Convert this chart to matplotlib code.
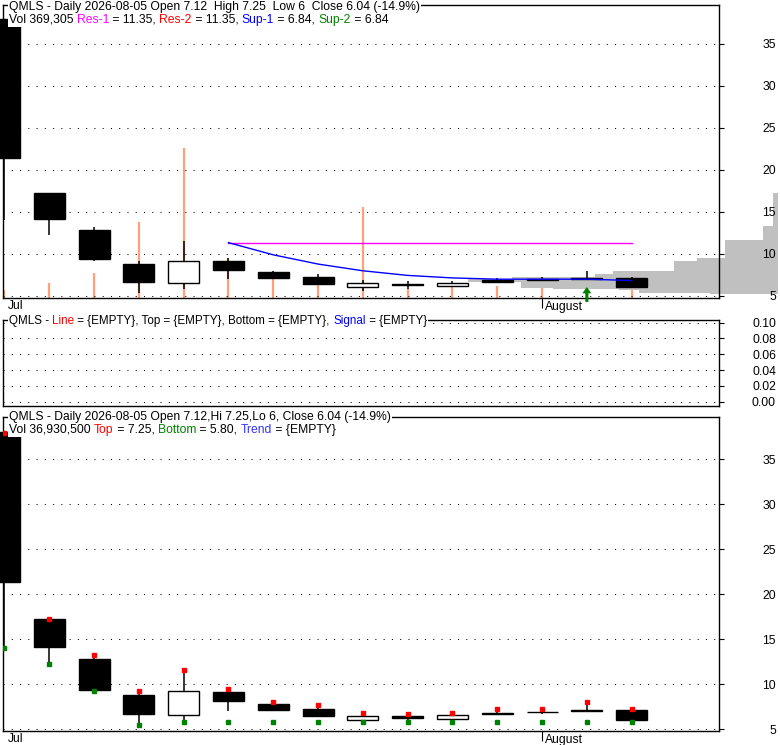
import matplotlib
matplotlib.use("Agg")
import matplotlib.pyplot as plt
from matplotlib.patches import Rectangle, FancyArrow
from matplotlib.offsetbox import TextArea, HPacker, AnnotationBbox
from matplotlib.transforms import ScaledTranslation

plt.rcParams['font.family'] = ['Liberation Sans', 'DejaVu Sans']
plt.rcParams['lines.scale_dashes'] = False

W, H, DPI = 780, 745, 100
FS = 8.7

# daily bars 2026-07-16 .. 2026-08-05
opens  = [38.0, 17.25, 12.85, 8.8, 6.55, 9.15, 7.85, 7.3, 6.05, 6.45, 6.15, 6.85, 6.97, 7.12, 7.12]
highs  = [38.0, 17.3, 13.2, 9.15, 11.5, 9.5, 8.0, 7.6, 6.85, 6.75, 6.8, 7.15, 7.3, 8.0, 7.25]
lows   = [14.0, 12.3, 9.2, 5.4, 5.8, 7.0, 7.0, 6.4, 5.6, 5.8, 6.1, 6.6, 6.75, 6.95, 6.0]
closes = [21.4, 14.15, 9.4, 6.7, 9.2, 8.1, 7.1, 6.45, 6.5, 6.25, 6.6, 6.7, 6.93, 7.0, 6.04]
volumes = [128000, 241000, 401000, 1220000, 2410000, 642000, 321000, 209000,
           1461000, 145000, 177000, 193000, 161000, 289000, 369305]

month_pos = [0, 12]
month_names = ["Jul", "August"]

# Res-1 / Sup-1 lines start at bar 5
line_start = 5
res1 = [11.35] * 10
sup1 = [11.35, 9.9, 8.8, 8.0, 7.45, 7.15, 7.0, 7.0, 7.0, 6.84]

signal_bars = [13]
signal_price = [6.07]

# top / bottom markers of lower panel
top_marks = [37.9, 17.25, 13.25, 9.2, 11.6, 9.5, 8.0, 7.65, 6.85, 6.75, 6.85, 7.2, 7.3, 8.0, 7.3]
bot_marks = [14.0, 12.3, 9.2, 5.45, 5.8, 5.8, 5.8, 5.8, 5.8, 5.8, 5.8, 5.8, 5.8, 5.8, 5.8]

# volume by price (price bin low, high, relative volume)
vp_lo  = [5.20, 5.39, 5.71, 5.83, 5.99, 6.70, 7.02, 7.30, 7.58, 7.98, 9.17, 9.52, 11.67, 13.33]
vp_hi  = [5.39, 5.71, 5.83, 5.99, 6.70, 7.02, 7.30, 7.58, 7.98, 9.17, 9.52, 11.67, 13.33, 17.26]
vp_vol = [68, 139, 159, 225, 257, 310, 266, 183, 165, 104, 81, 53, 15, 5]

price_ticks = [5, 10, 15, 20, 25, 30, 35]
ind_ticks = [0.00, 0.02, 0.04, 0.06, 0.08, 0.10]

fig = plt.figure(figsize=(W / DPI, H / DPI), dpi=DPI, facecolor="w")


def px_axes(left, top, right, bottom, **kw):
    return fig.add_axes([left / W, 1 - bottom / H, (right - left) / W, (bottom - top) / H], **kw)


def style_axes(ax, ticks, fmt):
    for s in ax.spines.values():
        s.set_linewidth(1.0)
        s.set_color("black")
    ax.set_xlim(-0.022, 15.95)
    ax.yaxis.tick_right()
    ax.set_yticks(ticks)
    ax.set_yticklabels([fmt.format(t) for t in ticks])
    ax.tick_params(axis="y", direction="out", length=3.6, width=0.8, pad=37.4, labelsize=FS)
    for lbl in ax.get_yticklabels():
        lbl.set_horizontalalignment("right")
    ax.grid(axis="y", color="black", lw=0.75, linestyle=(0, (0.75, 5.2)))
    ax.set_axisbelow(True)


def month_labels(ax):
    ax.set_xticks([p for p, n in zip(month_pos, month_names) if n != "Jul"])
    ax.set_xticklabels([n for n in month_names if n != "Jul"])
    ax.set_xticks([p for p, n in zip(month_pos, month_names) if n == "Jul"], minor=True)
    ax.set_xticklabels([n for n in month_names if n == "Jul"], minor=True)
    ax.tick_params(axis="x", which="major", direction="out", length=7, width=0.8, pad=-4.5, labelsize=FS)
    ax.tick_params(axis="x", which="minor", length=0, pad=1.2, labelsize=FS)
    off = ScaledTranslation(3 / DPI, 0, fig.dpi_scale_trans)
    for lbl in ax.get_xticklabels(which="both"):
        lbl.set_horizontalalignment("left")
        lbl.set_transform(lbl.get_transform() + off)


def candles(ax):
    for i, (o, h, l, c) in enumerate(zip(opens, highs, lows, closes)):
        ax.vlines(i, l, h, color="black", lw=1.1, zorder=3)
        face = "black" if c < o else "white"
        ax.add_patch(Rectangle((i - 0.345, min(o, c)), 0.69, abs(c - o), facecolor=face,
                               edgecolor="black", lw=1.0, zorder=4, clip_on=False))


def header(x, y, parts, size=FS):
    boxes = [TextArea(s, textprops=dict(color=c, size=size)) for s, c in parts]
    pack = HPacker(children=boxes, align="baseline", pad=0, sep=0)
    ab = AnnotationBbox(pack, (x, H - y), xycoords="figure pixels", box_alignment=(0, 0.5),
                        frameon=True, pad=0.1, bboxprops=dict(facecolor="white", edgecolor="none"),
                        zorder=10)
    fig.add_artist(ab)


top_lim = (4.76, 39.64)

# volume by price, drawn from the right edge of the picture
ax_vp = px_axes(0, 5, 778, 298)
ax_vp.barh([(a + b) / 2 for a, b in zip(vp_lo, vp_hi)], vp_vol,
           height=[b - a for a, b in zip(vp_lo, vp_hi)], left=0, color="#c0c0c0", lw=0)
ax_vp.set_xlim(778, 0)
ax_vp.set_ylim(*top_lim)
ax_vp.axis("off")

# ---- price panel
ax = px_axes(3.5, 5, 719, 298)
ax.patch.set_visible(False)
ax_vol = ax.twinx()
ax_vol.set_zorder(ax.get_zorder() - 0.5)
ax.set_zorder(ax.get_zorder() + 1)
ax_vol.vlines(range(len(volumes)), 0, volumes, color="#FFA07A", lw=1.6)
ax_vol.set_ylim(0, max(volumes) * 293 / 150)
ax_vol.axis("off")

style_axes(ax, price_ticks, "{:d}")
ax.set_ylim(*top_lim)
candles(ax)
xs = list(range(line_start, line_start + len(res1)))
ax.plot(xs, res1, color="#FF00FF", lw=1.0, zorder=5)
ax.plot(xs, sup1, color="#0000FF", lw=1.0, zorder=5)
for b, p in zip(signal_bars, signal_price):
    ax.add_patch(FancyArrow(b, p - 1.78, 0, 1.78, width=0.07, head_width=0.2, head_length=0.75,
                            length_includes_head=True, color="#008000", lw=0, zorder=6, clip_on=False))
month_labels(ax)

header(9, 7, [("QMLS - Daily 2026-08-05 Open 7.12  High 7.25  Low 6  Close 6.04 (-14.9%)", "black")])
header(9, 20, [("Vol 369,305 ", "black"), ("Res-1", "#FF00FF"), (" = 11.35, ", "black"),
               ("Res-2", "#FF0000"), (" = 11.35, ", "black"), ("Sup-1", "#0000FF"),
               (" = 6.84, ", "black"), ("Sup-2", "#008000"), (" = 6.84", "black")])

# ---- indicator panel
ax2 = px_axes(3.5, 320, 719, 406)
style_axes(ax2, ind_ticks, "{:.2f}")
ax2.set_ylim(-0.0054, 0.1034)
ax2.set_xticks([])
header(9, 321, [("QMLS - ", "black"), ("Line", "#FF0000"), (" = {EMPTY}, Top = {EMPTY}, Bottom = {EMPTY}, ", "black"),
                ("Signal", "#0000FF"), (" = {EMPTY}", "black")], size=8.4)

# ---- lower price panel
ax3 = px_axes(3.5, 416.5, 719, 731)
style_axes(ax3, price_ticks, "{:d}")
ax3.set_ylim(4.81, 39.73)
candles(ax3)
ax3.plot(range(len(top_marks)), top_marks, ls="none", marker="s", ms=2.3, color="#FF0000", zorder=6)
ax3.plot(range(len(bot_marks)), bot_marks, ls="none", marker="s", ms=2.3, color="#008000", zorder=6)
month_labels(ax3)

header(9, 417, [("QMLS - Daily 2026-08-05 Open 7.12,Hi 7.25,Lo 6, Close 6.04 (-14.9%)", "black")])
header(9, 430, [("Vol 36,930,500 ", "black"), ("Top", "#FF0000"), (" = 7.25, ", "black"),
                ("Bottom", "#008000"), (" = 5.80, ", "black"), ("Trend", "#3333FF"),
                (" = {EMPTY}", "black")])

fig.savefig("out.png", dpi=DPI, facecolor="w")
